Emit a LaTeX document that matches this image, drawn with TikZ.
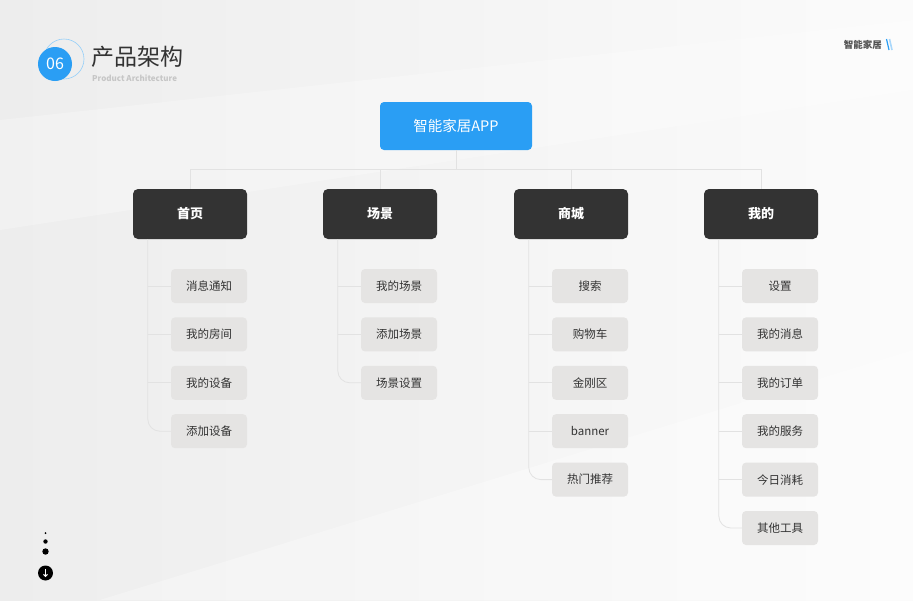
\documentclass[tikz,border=0pt]{standalone}
\usepackage{fontspec}
\setmainfont{Noto Sans CJK SC}
\usetikzlibrary{calc,arrows.meta}
\definecolor{appblue}{HTML}{2A9EF4}
\definecolor{catdark}{HTML}{333333}
\definecolor{itemgray}{HTML}{E5E4E3}
\definecolor{linegray}{HTML}{E2E2E2}
\definecolor{txtdark}{HTML}{333333}
\definecolor{bgray}{HTML}{EDEDED}
\tikzset{
  appbox/.style={fill=appblue, rounded corners=4pt, minimum width=152pt, minimum height=48pt, inner sep=0pt, text=white, font=\fontsize{14.5}{16}\selectfont},
  catbox/.style={fill=catdark, rounded corners=5pt, minimum width=114pt, minimum height=50pt, inner sep=0pt, text=white, font=\fontsize{13}{15}\selectfont\bfseries},
  itembox/.style={fill=itemgray, rounded corners=4pt, minimum width=76pt, minimum height=34pt, inner sep=0pt, text=txtdark, font=\fontsize{11.5}{13}\selectfont},
  link/.style={draw=linegray, line width=0.8pt},
}
\begin{document}
\begin{tikzpicture}[x=1pt,y=-1pt]
\useasboundingbox (0,0) rectangle (913,600);
% background
\shade[left color=bgray, right color=white!97!gray] (0,0) rectangle (913,600);
\fill[white, opacity=0.25] (0,120) -- (913,20) -- (913,90) -- (0,230) -- cycle;
\fill[white, opacity=0.3] (100,600) -- (913,350) -- (913,600) -- cycle;

% header
\draw[appblue!50, line width=0.6pt] (64,59) circle (20);
\node[circle, fill=appblue, minimum size=34pt, inner sep=0pt, text=white, font=\fontsize{16}{18}\selectfont] (num) at (55,64) {06};
\node[anchor=west, inner sep=0pt, text=txtdark, font=\fontsize{23}{25}\selectfont] (title) at (91,57) {产品架构};
\node[anchor=west, inner sep=0pt, text=gray!45, font=\fontsize{8}{9}\selectfont\bfseries] (sub) at (92,78.5) {Product Architecture};
\node[anchor=east, inner sep=0pt, text=txtdark!85, font=\fontsize{9.5}{11}\selectfont\bfseries] (brand) at (882,44.5) {智能家居};
\draw[appblue, line width=1.2pt] (886.5,39) -- (889,50);
\draw[appblue!40, line width=1.6pt] (889.5,39) -- (892,50);

% root
\node[appbox] (app) at (456,126) {智能家居APP};
% categories
\node[catbox] (c1) at (190,214) {首页};
\node[catbox] (c2) at (380,214) {场景};
\node[catbox] (c3) at (571,214) {商城};
\node[catbox] (c4) at (761,214) {我的};
\foreach \c in {c1,c2,c3,c4}{
  \draw[link] (app.south) -- ++(0,19) -| (\c.north);
}

% items
\foreach \col/\cnt/\names in {1/4/{消息通知,我的房间,我的设备,添加设备},2/3/{我的场景,添加场景,场景设置},3/5/{搜索,购物车,金刚区,banner,热门推荐},4/6/{设置,我的消息,我的订单,我的服务,今日消耗,其他工具}}{
  \coordinate (t\col) at ([xshift=15pt]c\col.south west);
  \foreach \n [count=\i] in \names {
    \pgfmathsetmacro{\dy}{72+48.4*(\i-1)}
    \node[itembox, anchor=east] (i\col x\i) at ($(c\col.east)+(0,\dy)$) {\n};
  }
  \draw[link, rounded corners=12pt] (t\col) |- (i\col x\cnt.west);
  \pgfmathtruncatemacro{\prev}{\cnt-1}
  \foreach \k in {1,...,\prev}{
    \draw[link] (t\col |- i\col x\k.west) -- (i\col x\k.west);
  }
}

% bottom-left navigation
\fill[black] (45.5,533) circle (1);
\fill[black] (45.5,541.5) circle (2.2);
\fill[black] (45.5,551.5) circle (3.2);
\node[circle, fill=black, minimum size=15pt, inner sep=0pt] (down) at (45.5,573) {};
\draw[white, line width=1pt, -{Straight Barb[length=2pt,width=4pt]}] ([yshift=4pt]down.center) -- ([yshift=-4pt]down.center);
\end{tikzpicture}
\end{document}
